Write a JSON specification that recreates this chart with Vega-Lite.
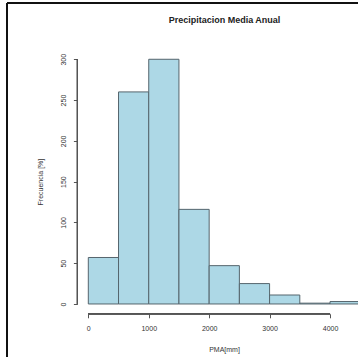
{
  "$schema": "https://vega.github.io/schema/vega-lite/v6.json",
  "width": 351,
  "height": 354,
  "autosize": {"type": "none"},
  "padding": {"left": 7, "top": 3, "right": 0, "bottom": 0},
  "background": "white",
  "config": {
    "view": {"stroke": null},
    "font": "Liberation Sans"
  },
  "title": {
    "text": "Precipitacion Media Anual",
    "font": "Liberation Sans",
    "fontSize": 9,
    "fontWeight": "bold",
    "color": "#222",
    "anchor": "middle",
    "frame": "group",
    "baseline": "middle",
    "offset": 0,
    "dx": 42,
    "dy": 27
  },
  "data": {
    "values": [
      {"start": 0, "end": 500, "count": 57},
      {"start": 500, "end": 1000, "count": 260},
      {"start": 1000, "end": 1500, "count": 300},
      {"start": 1500, "end": 2000, "count": 116},
      {"start": 2000, "end": 2500, "count": 47},
      {"start": 2500, "end": 3000, "count": 25},
      {"start": 3000, "end": 3500, "count": 11},
      {"start": 3500, "end": 4000, "count": 1},
      {"start": 4000, "end": 4500, "count": 3}
    ]
  },
  "layer": [
    {
      "mark": {"type": "bar", "fill": "#ADD8E6", "stroke": "#55656d", "strokeWidth": 1, "clip": true},
      "encoding": {
        "x": {
          "field": "start", "type": "quantitative",
          "scale": {"domain": [-1345.5, 4463], "nice": false, "zero": false},
          "axis": {
            "values": [0, 1000, 2000, 3000, 4000],
            "format": "d",
            "domain": false, "grid": false,
            "offset": -43.2,
            "tickSize": 4, "tickColor": "#555",
            "labelFontSize": 7, "labelColor": "#333", "labelPadding": 7,
            "labelFont": "Liberation Sans",
            "title": "PMA[mm]",
            "titleFontSize": 7, "titleFontWeight": "normal", "titleColor": "#333",
            "titleFont": "Liberation Sans",
            "titleX": 217, "titleY": 36, "titleBaseline": "middle", "titleAlign": "center"
          }
        },
        "x2": {"field": "end"},
        "y": {
          "field": "count", "type": "quantitative",
          "scale": {"domain": [-65, 369], "nice": false, "zero": false},
          "axis": {
            "values": [0, 50, 100, 150, 200, 250, 300],
            "domain": false, "grid": false,
            "offset": -70.4,
            "tickSize": 4, "tickColor": "#555",
            "labelAngle": -90, "labelAlign": "center", "labelBaseline": "bottom",
            "labelFontSize": 7, "labelColor": "#333", "labelPadding": 7,
            "labelFont": "Liberation Sans",
            "title": "Frecuencia [%]",
            "titleFontSize": 7, "titleFontWeight": "normal", "titleColor": "#333",
            "titleFont": "Liberation Sans",
            "titleX": -37, "titleY": 178.6, "titleBaseline": "middle", "titleAlign": "center", "titleAngle": -90
          }
        },
        "y2": {"datum": 0}
      }
    },
    {
      "mark": {"type": "rule", "color": "#555", "strokeWidth": 1},
      "encoding": {
        "x": {"datum": -180},
        "y": {"datum": 0},
        "y2": {"datum": 300}
      }
    },
    {
      "mark": {"type": "rule", "color": "#555", "strokeWidth": 1},
      "encoding": {
        "x": {"datum": 0},
        "x2": {"datum": 4000},
        "y": {"datum": -12}
      }
    },
    {
      "mark": {"type": "rule", "color": "#111", "strokeWidth": 2},
      "encoding": {
        "x": {"datum": -1345.5},
        "y": {"datum": -65},
        "y2": {"datum": 369}
      }
    },
    {
      "mark": {"type": "rule", "color": "#111", "strokeWidth": 2},
      "encoding": {
        "x": {"datum": -1345.5},
        "x2": {"datum": 4463},
        "y": {"datum": 369}
      }
    }
  ]
}
